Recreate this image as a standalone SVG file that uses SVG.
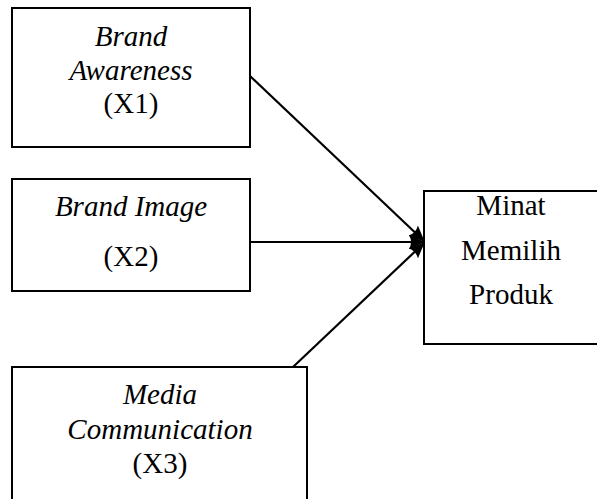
<svg xmlns="http://www.w3.org/2000/svg" width="597" height="499" viewBox="0 0 597 499">
  <style>
    .box { fill: #ffffff; stroke: #000000; stroke-width: 2; }
    .lbl { font-family: "Liberation Serif", "Times New Roman", serif; font-size: 29px; fill: #000000; text-anchor: middle; }
    .it { font-style: italic; }
    .edge { stroke: #000000; stroke-width: 2.2; fill: none; marker-end: url(#head); }
  </style>
  <defs>
    <marker id="head" viewBox="0 0 16 16" refX="15" refY="8" markerWidth="16" markerHeight="16" markerUnits="userSpaceOnUse" orient="auto">
      <path d="M0,1 L16,8 L0,15 Q4,8 0,1 Z" fill="#000000"/>
    </marker>
  </defs>

  <g id="connectors">
    <line class="edge" x1="250" y1="76" x2="424" y2="241"/>
    <line class="edge" x1="250" y1="242" x2="424" y2="242"/>
    <line class="edge" x1="293" y1="367" x2="424" y2="243"/>
  </g>

  <g id="x1">
    <rect class="box" x="12" y="8" width="238" height="139"/>
    <text class="lbl it" x="131" y="46">Brand</text>
    <text class="lbl it" x="131" y="80">Awareness</text>
    <text class="lbl" x="131" y="113">(X1)</text>
  </g>

  <g id="x2">
    <rect class="box" x="12" y="179" width="238" height="112"/>
    <text class="lbl it" x="131" y="216">Brand Image</text>
    <text class="lbl" x="131" y="266">(X2)</text>
  </g>

  <g id="x3">
    <path class="box" d="M12,505 L12,367 L307,367 L307,505"/>
    <text class="lbl it" x="160" y="404">Media</text>
    <text class="lbl it" x="160" y="439">Communication</text>
    <text class="lbl" x="160" y="473">(X3)</text>
  </g>

  <g id="y">
    <rect class="box" x="424" y="191" width="175" height="153"/>
    <text class="lbl" x="511" y="215">Minat</text>
    <text class="lbl" x="511" y="260">Memilih</text>
    <text class="lbl" x="511" y="304">Produk</text>
  </g>
</svg>
